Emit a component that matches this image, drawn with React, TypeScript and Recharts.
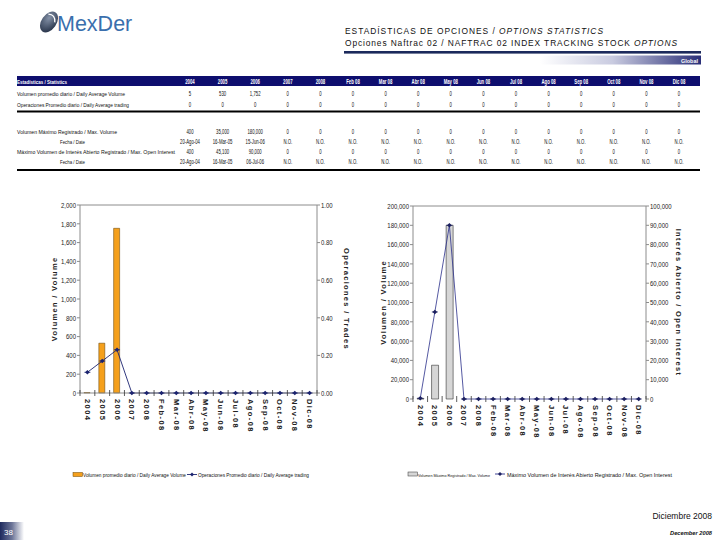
import React from 'react';
import { ComposedChart, Bar, Line, XAxis, YAxis, ReferenceLine } from 'recharts';

// ---------- data ----------
const categories = ['2004', '2005', '2006', '2007', '2008', 'Feb-08', 'Mar-08', 'Abr-08', 'May-08', 'Jun-08', 'Jul-08', 'Ago-08', 'Sep-08', 'Oct-08', 'Nov-08', 'Dic-08'];
const dailyAvgVolume = [5, 530, 1752, 0, 0, 0, 0, 0, 0, 0, 0, 0, 0, 0, 0, 0];
const dailyAvgTrades = [0.11, 0.17, 0.23, 0, 0, 0, 0, 0, 0, 0, 0, 0, 0, 0, 0, 0];
const maxVolume = [400, 35000, 180000, 0, 0, 0, 0, 0, 0, 0, 0, 0, 0, 0, 0, 0];
const maxOpenInterest = [400, 45100, 90000, 0, 0, 0, 0, 0, 0, 0, 0, 0, 0, 0, 0, 0];

const leftVolTicks = [0, 200, 400, 600, 800, 1000, 1200, 1400, 1600, 1800, 2000];
const leftTradeTicks = [0, 0.2, 0.4, 0.6, 0.8, 1.0];
const rightVolTicks = [0, 20000, 40000, 60000, 80000, 100000, 120000, 140000, 160000, 180000, 200000];
const rightOITicks = [0, 10000, 20000, 30000, 40000, 50000, 60000, 70000, 80000, 90000, 100000];

const tableHeaders = ['2004', '2005', '2006', '2007', '2008', 'Feb 08', 'Mar 08', 'Abr 08', 'May 08', 'Jun 08', 'Jul 08', 'Ago 08', 'Sep 08', 'Oct 08', 'Nov 08', 'Dic 08'];
const tableVolume = ['5', '530', '1,752', '0', '0', '0', '0', '0', '0', '0', '0', '0', '0', '0', '0', '0'];
const tableTrades = ['0', '0', '0', '0', '0', '0', '0', '0', '0', '0', '0', '0', '0', '0', '0', '0'];
const tableMaxVolume = ['400', '35,000', '180,000', '0', '0', '0', '0', '0', '0', '0', '0', '0', '0', '0', '0', '0'];
const tableMaxVolumeDate = ['20-Ago-04', '16-Mar-05', '15-Jun-06', 'N.O.', 'N.O.', 'N.O.', 'N.O.', 'N.O.', 'N.O.', 'N.O.', 'N.O.', 'N.O.', 'N.O.', 'N.O.', 'N.O.', 'N.O.'];
const tableMaxOI = ['400', '45,100', '90,000', '0', '0', '0', '0', '0', '0', '0', '0', '0', '0', '0', '0', '0'];
const tableMaxOIDate = ['20-Ago-04', '16-Mar-05', '06-Jul-06', 'N.O.', 'N.O.', 'N.O.', 'N.O.', 'N.O.', 'N.O.', 'N.O.', 'N.O.', 'N.O.', 'N.O.', 'N.O.', 'N.O.', 'N.O.'];

const leftData = categories.map((c, i) => ({ cat: c, vol: dailyAvgVolume[i], trades: dailyAvgTrades[i] }));
const rightData = categories.map((c, i) => ({ cat: c, vol: maxVolume[i], oi: maxOpenInterest[i] }));

// ---------- styles ----------
const SANS = "'Liberation Sans', Arial, sans-serif";
const NAVY = '#1c2470';
const ORANGE = '#F5A01C';
const GREY_AXIS = '#8c8c8c';

const fmtInt = (v: number) => v.toLocaleString('en-US');
const fmt2 = (v: number) => v.toFixed(2);

// text fitted to a given width (narrow-font look)
const FitText = ({ x, y, w, size, bold, italic, fill, children, anchor }: any) => (
  <text
    x={x}
    y={y}
    textLength={w}
    lengthAdjust="spacingAndGlyphs"
    fontFamily={SANS}
    fontSize={size}
    fontWeight={bold ? 'bold' : 'normal'}
    fontStyle={italic ? 'italic' : 'normal'}
    fill={fill || '#111'}
    textAnchor={anchor || 'start'}
  >
    {children}
  </text>
);

// text squeezed horizontally by a factor
const SqText = ({ x, y, sx, size, bold, fill, anchor, children, baseline }: any) => (
  <text
    transform={`translate(${x},${y}) scale(${sx},1)`}
    fontFamily={SANS}
    fontSize={size}
    fontWeight={bold ? 'bold' : 'normal'}
    fill={fill || '#111'}
    textAnchor={anchor || 'start'}
    dominantBaseline={baseline || 'auto'}
  >
    {children}
  </text>
);

const XTick = (props: any) => {
  const { x, y, payload, index, bw } = props;
  return (
    <g>
      <line x1={x - bw / 2} x2={x - bw / 2} y1={y - 3} y2={y + 3} stroke="#333" strokeWidth={0.8} />
      {index === categories.length - 1 && (
        <line x1={x + bw / 2} x2={x + bw / 2} y1={y - 3} y2={y + 3} stroke="#333" strokeWidth={0.8} />
      )}
      <text
        transform={`translate(${x - 2.5},${y + 6}) rotate(90)`}
        textAnchor="start"
        fontSize={7.5}
        fontWeight="bold"
        letterSpacing={1.4}
        fontFamily={SANS}
        fill="#222"
      >
        {payload.value}
      </text>
    </g>
  );
};

const YTick = (props: any) => {
  const { x, y, payload, textAnchor, fmt } = props;
  return (
    <SqText x={x} y={y} sx={0.8} size={7.5} anchor={textAnchor} baseline="central" fill="#222">
      {fmt(payload.value)}
    </SqText>
  );
};

const Marker = (props: any) => {
  const { cx, cy, color } = props;
  if (cx == null || cy == null) return null;
  return (
    <g>
      <path d={`M${cx - 2.3},${cy} L${cx},${cy - 2.3} L${cx + 2.3},${cy} L${cx},${cy + 2.3} Z`} fill={color} />
      <line x1={cx - 3} x2={cx + 3} y1={cy} y2={cy} stroke={color} strokeWidth={0.8} />
    </g>
  );
};

const axisTitle = (text: string, side: 'left' | 'right', dx: number) => (p: any) => {
  const vb = p.viewBox;
  const cx = side === 'left' ? vb.x + dx : vb.x + vb.width - dx;
  const cy = vb.y + vb.height / 2;
  const rot = side === 'left' ? -90 : 90;
  return (
    <text
      transform={`translate(${cx},${cy}) rotate(${rot})`}
      textAnchor="middle"
      dominantBaseline="central"
      fontSize={7.5}
      fontWeight="bold"
      letterSpacing={1.3}
      fontFamily={SANS}
      fill="#222"
    >
      {text}
    </text>
  );
};

const LeftChart = () => {
  const bw = 237 / categories.length;
  return (
    <ComposedChart width={320} height={260} data={leftData} margin={{ top: 15, right: 0, bottom: 7, left: 0 }}>
      <XAxis
        dataKey="cat"
        interval={0}
        height={50}
        tickSize={0}
        tickMargin={0}
        tickLine={false}
        axisLine={{ stroke: GREY_AXIS }}
        tick={(p: any) => <XTick {...p} bw={bw} />}
      />
      <YAxis
        yAxisId="l"
        width={40}
        domain={[0, 2000]}
        ticks={leftVolTicks}
        tickSize={3}
        tickMargin={1}
        interval={0}
        tick={(p: any) => <YTick {...p} fmt={fmtInt} />}
        axisLine={{ stroke: GREY_AXIS }}
        tickLine={{ stroke: GREY_AXIS }}
        label={{ content: axisTitle('Volumen / Volume', 'left', 14) } as any}
      />
      <YAxis
        yAxisId="r"
        orientation="right"
        width={43}
        domain={[0, 1]}
        ticks={leftTradeTicks}
        tickSize={3}
        tickMargin={1}
        interval={0}
        tick={(p: any) => <YTick {...p} fmt={fmt2} />}
        axisLine={{ stroke: GREY_AXIS }}
        tickLine={{ stroke: GREY_AXIS }}
        label={{ content: axisTitle('Operaciones / Trades', 'right', 14) } as any}
      />
      <ReferenceLine yAxisId="l" y={2000} stroke={GREY_AXIS} />
      <Bar yAxisId="l" dataKey="vol" fill={ORANGE} stroke="#5a3a00" strokeWidth={0.5} barSize={6} isAnimationActive={false} />
      <Line
        yAxisId="r"
        dataKey="trades"
        stroke={NAVY}
        strokeWidth={0.9}
        dot={(p: any) => <Marker key={p.index} {...p} color={NAVY} />}
        activeDot={false}
        isAnimationActive={false}
      />
    </ComposedChart>
  );
};

const RightChart = () => {
  const bw = 233 / categories.length;
  return (
    <ComposedChart width={318} height={264} data={rightData} margin={{ top: 16, right: 0, bottom: 5, left: 0 }}>
      <XAxis
        dataKey="cat"
        interval={0}
        height={50}
        tickSize={0}
        tickMargin={0}
        tickLine={false}
        axisLine={false}
        tick={(p: any) => <XTick {...p} bw={bw} />}
      />
      <YAxis
        yAxisId="l"
        width={41}
        domain={[0, 200000]}
        ticks={rightVolTicks}
        tickSize={3}
        tickMargin={1}
        interval={0}
        tick={(p: any) => <YTick {...p} fmt={fmtInt} />}
        axisLine={{ stroke: GREY_AXIS }}
        tickLine={{ stroke: GREY_AXIS }}
        label={{ content: axisTitle('Volumen / Volume', 'left', 11) } as any}
      />
      <YAxis
        yAxisId="r"
        orientation="right"
        width={44}
        domain={[0, 100000]}
        ticks={rightOITicks}
        tickSize={3}
        tickMargin={1}
        interval={0}
        tick={(p: any) => <YTick {...p} fmt={fmtInt} />}
        axisLine={{ stroke: GREY_AXIS }}
        tickLine={{ stroke: GREY_AXIS }}
        label={{ content: axisTitle('Interés Abierto / Open Interest', 'right', 12) } as any}
      />
      <ReferenceLine yAxisId="l" y={200000} stroke={GREY_AXIS} />
      <Bar yAxisId="l" dataKey="vol" fill="#d6d6d6" stroke="#333" strokeWidth={0.6} barSize={7} isAnimationActive={false} />
      <Line
        yAxisId="r"
        dataKey="oi"
        stroke="#2a2f8a"
        strokeWidth={0.8}
        dot={(p: any) => <Marker key={p.index} {...p} color="#1c2060" />}
        activeDot={false}
        isAnimationActive={false}
      />
    </ComposedChart>
  );
};

const colX = (i: number) => 190 + i * 32.6;

const TableRow = ({ y, label, labelX, labelW, labelSize, values }: { y: number; label: string; labelX: number; labelW: number; labelSize: number; values: string[] }) => (
  <g>
    <FitText x={labelX} y={y} w={labelW} size={labelSize}>{label}</FitText>
    {values.map((v, i) => (
      <SqText key={i} x={colX(i)} y={y} sx={0.68} size={6.3} anchor="middle">{v}</SqText>
    ))}
  </g>
);

const Header = () => (
  <svg width={720} height={180} style={{ position: 'absolute', left: 0, top: 0 }}>
    <defs>
      <linearGradient id="gbar" x1="0" x2="1" y1="0" y2="0">
        <stop offset="0" stopColor="#ffffff" />
        <stop offset="0.45" stopColor="#c9cbe0" />
        <stop offset="1" stopColor="#2a2f78" />
      </linearGradient>
      <radialGradient id="logoG" cx="0.35" cy="0.35" r="0.8">
        <stop offset="0" stopColor="#8592a8" />
        <stop offset="1" stopColor="#1e2a40" />
      </radialGradient>
    </defs>
    {/* logo */}
    <g transform="translate(49,22) rotate(35)">
      <ellipse cx={0} cy={0} rx={7.5} ry={11.5} fill="url(#logoG)" />
      <path d="M-5,-6 Q1,-10 5,-3" stroke="#ffffff" strokeWidth={1.3} fill="none" />
    </g>
    <text x={57} y={31} fontFamily={SANS} fontSize={21.5} fill="#3a6fad">MexDer</text>
    {/* title */}
    <text x={345} y={33.5} textLength={258} lengthAdjust="spacing" fontFamily={SANS} fontSize={8.4} fill="#111">
      ESTADÍSTICAS DE OPCIONES / <tspan fontStyle="italic">OPTIONS STATISTICS</tspan>
    </text>
    <text x={345} y={46} textLength={332} lengthAdjust="spacing" fontFamily={SANS} fontSize={8.4} fill="#111">
      Opciones Naftrac 02 / NAFTRAC 02 INDEX TRACKING STOCK <tspan fontStyle="italic">OPTIONS</tspan>
    </text>
    <rect x={344} y={51} width={357} height={2.6} fill="#1c2a5c" />
    <rect x={540} y={55.5} width={161} height={9} fill="url(#gbar)" />
    <FitText x={681} y={63} w={17} size={6} bold fill="#fff">Global</FitText>
    {/* table */}
    <rect x={17} y={76} width={683} height={10} fill="#0e0e6e" />
    <FitText x={17} y={83.5} w={50} size={5.6} bold fill="#fff">Estadísticas / Statistics</FitText>
    {tableHeaders.map((h, i) => (
      <SqText key={i} x={colX(i)} y={83.5} sx={0.68} size={6.3} bold anchor="middle" fill="#fff">{h}</SqText>
    ))}
    <TableRow y={96} label="Volumen promedio diario / Daily Average Volume" labelX={17} labelW={108} labelSize={5.8} values={tableVolume} />
    <TableRow y={106.5} label="Operaciones Promedio diario / Daily Average trading" labelX={17} labelW={112} labelSize={5.8} values={tableTrades} />
    <rect x={17} y={110.5} width={683} height={2} fill="#000" />
    <TableRow y={133.5} label="Volumen Máximo Registrado / Max. Volume" labelX={17} labelW={100} labelSize={5.8} values={tableMaxVolume} />
    <TableRow y={144} label="Fecha / Date" labelX={60} labelW={25} labelSize={5.8} values={tableMaxVolumeDate} />
    <TableRow y={154} label="Máximo Volumen de Interés Abierto Registrado / Max. Open Interest" labelX={17} labelW={158} labelSize={5.3} values={tableMaxOI} />
    <TableRow y={164} label="Fecha / Date" labelX={60} labelW={25} labelSize={5.8} values={tableMaxOIDate} />
    <rect x={17} y={169} width={683} height={2} fill="#000" />
  </svg>
);

const Legends = () => (
  <svg width={720} height={30} style={{ position: 'absolute', left: 0, top: 462 }}>
    <rect x={73} y={10.5} width={9.5} height={4} fill={ORANGE} stroke="#6a4500" strokeWidth={0.5} />
    <FitText x={83} y={15} w={103} size={5}>Volumen promedio diario / Daily Average Volume</FitText>
    <line x1={187} x2={197} y1={12.5} y2={12.5} stroke={NAVY} strokeWidth={0.9} />
    <path d="M190,12.5 L192,10.5 L194,12.5 L192,14.5 Z" fill={NAVY} />
    <FitText x={198} y={15} w={111} size={5}>Operaciones Promedio diario / Daily Average trading</FitText>

    <rect x={408} y={10} width={9.5} height={4} fill="#d6d6d6" stroke="#333" strokeWidth={0.5} />
    <FitText x={418} y={14.5} w={72} size={4.2}>Volumen Máximo Registrado / Max. Volume</FitText>
    <line x1={495} x2={505} y1={12} y2={12} stroke="#2a2f8a" strokeWidth={0.9} />
    <path d="M498,12 L500,10 L502,12 L500,14 Z" fill="#1c2060" />
    <FitText x={507} y={14.5} w={165} size={5.3}>Máximo Volumen de Interés Abierto Registrado / Max. Open Interest</FitText>
  </svg>
);

const Footer = () => (
  <svg width={720} height={40} style={{ position: 'absolute', left: 0, top: 500 }}>
    <defs>
      <linearGradient id="pg" x1="0" x2="1" y1="0" y2="0">
        <stop offset="0" stopColor="#1e2a5e" />
        <stop offset="0.5" stopColor="#6c7598" />
        <stop offset="1" stopColor="#ffffff" />
      </linearGradient>
    </defs>
    <text x={712} y={19} textAnchor="end" fontFamily={SANS} fontSize={8.5} fill="#111">Diciembre 2008</text>
    <FitText x={712} y={35} w={42} size={6.2} italic bold anchor="end">December 2008</FitText>
    <rect x={0} y={22} width={24} height={18} fill="url(#pg)" />
    <text x={4} y={34.5} fontFamily={SANS} fontSize={8} fill="#fff">38</text>
  </svg>
);

export default function App() {
  return (
    <div style={{ position: 'absolute', left: 0, top: 0, width: 720, height: 540, background: '#fff', overflow: 'hidden' }}>
      <Header />
      <div style={{ position: 'absolute', left: 40, top: 190 }}>
        <LeftChart />
      </div>
      <div style={{ position: 'absolute', left: 372, top: 190 }}>
        <RightChart />
      </div>
      <Legends />
      <Footer />
    </div>
  );
}
